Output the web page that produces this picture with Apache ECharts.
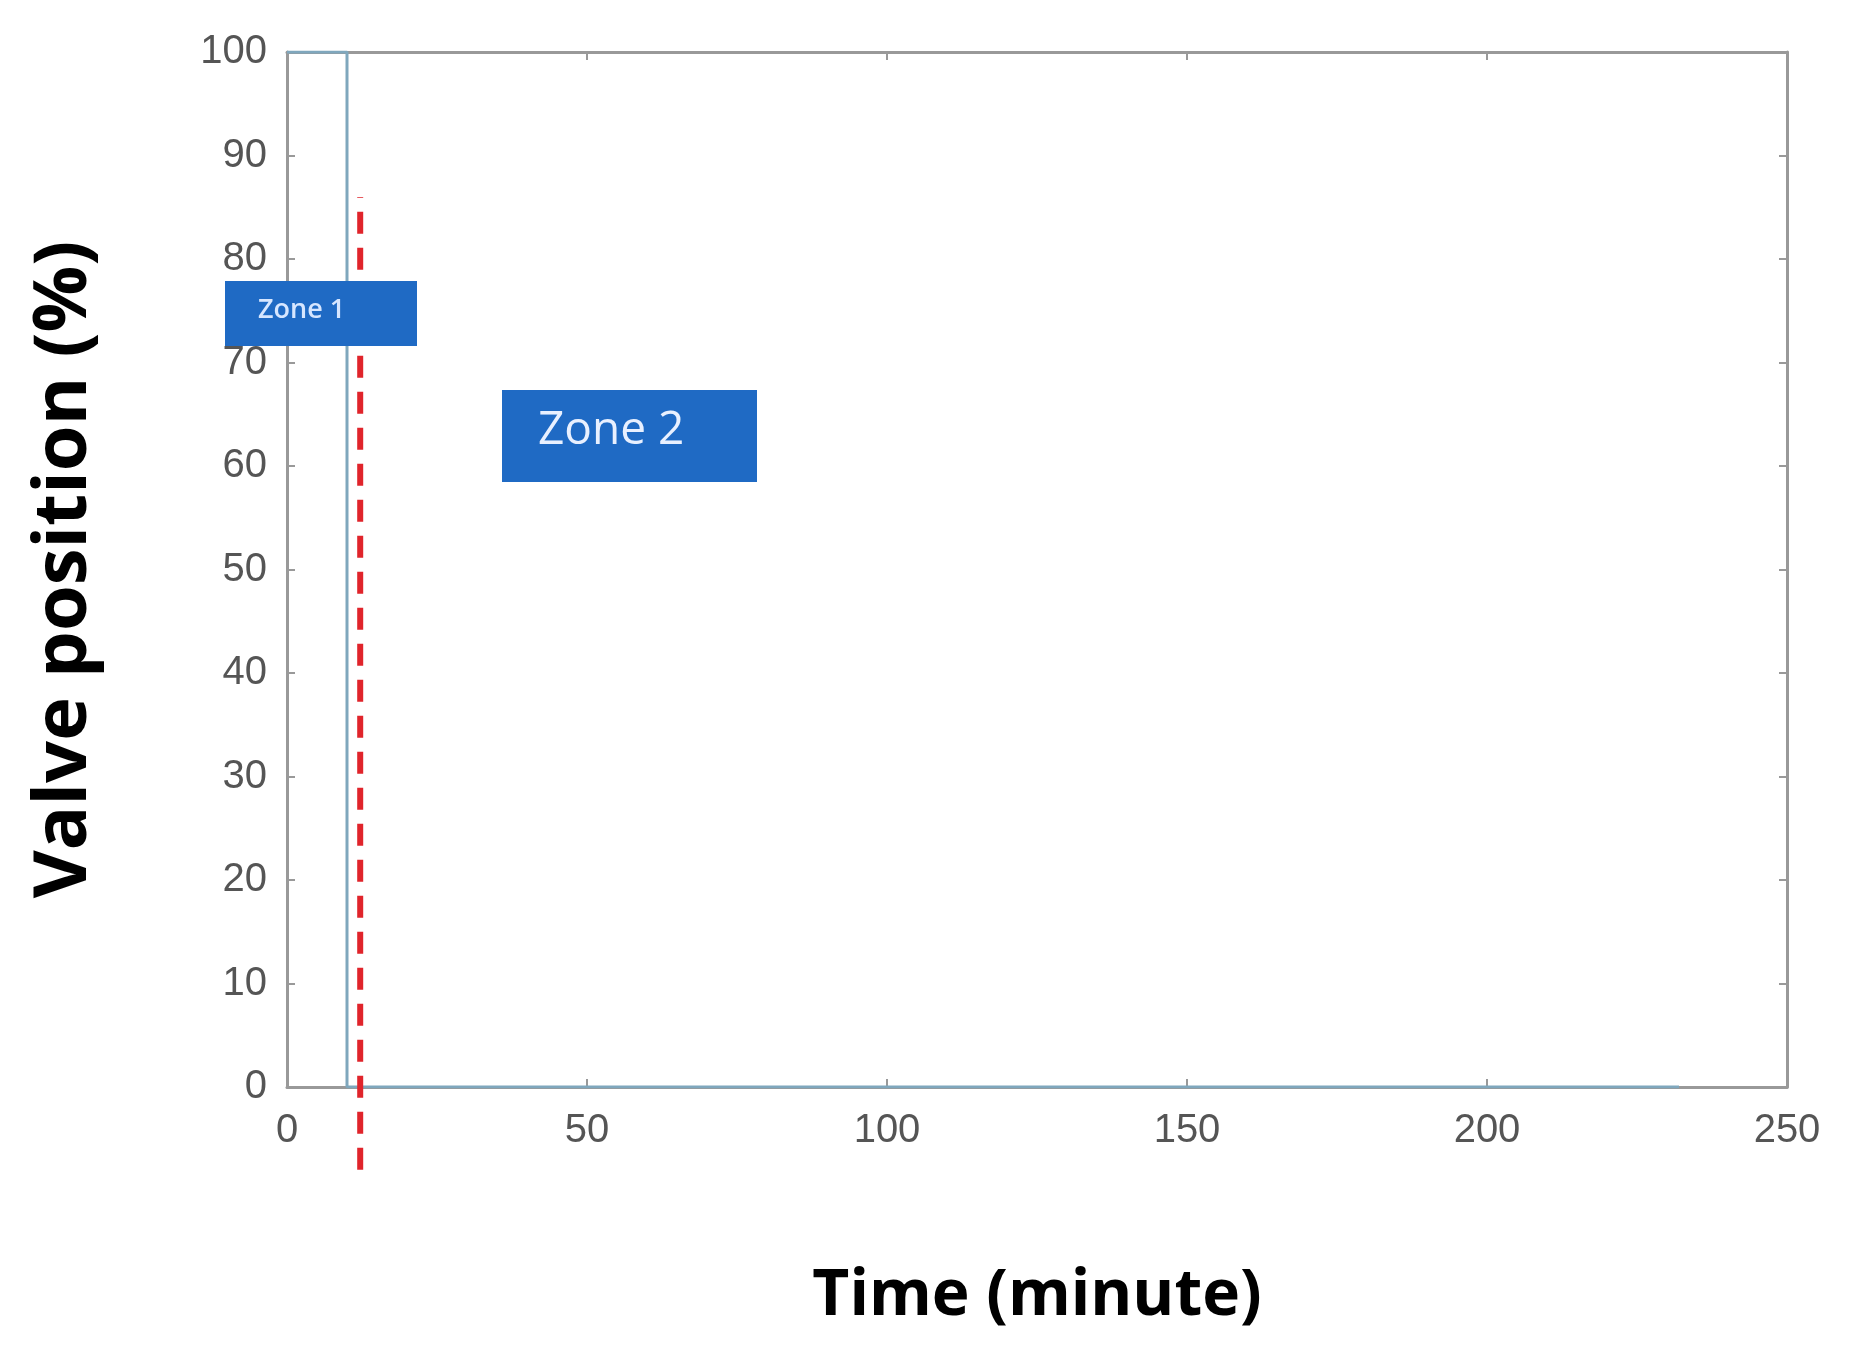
<!DOCTYPE html>
<html><head><meta charset="utf-8">
<script src="https://cdn.jsdelivr.net/npm/echarts@6/dist/echarts.min.js"></script>
<style>html,body{margin:0;background:#fff}#c{width:1853px;height:1361px}</style>
</head><body><div id="c"></div>
<script>
const valveTime = [0, 10, 10, 232];
const valvePos = [100, 100, 0, 0];
const boundaryTime = [12.2, 12.2];
const boundaryPos = [-8, 86];
const xTicks = [0, 50, 100, 150, 200, 250];
const yTicks = [0, 10, 20, 30, 40, 50, 60, 70, 80, 90, 100];

const chart = echarts.init(document.getElementById('c'));
const axisLbl = {color:'#555', fontSize:40, fontFamily:'Liberation Sans'};
const axLine = {show:true, onZero:false, lineStyle:{color:'#999', width:3}};
const tick = {inside:true, length:8, lineStyle:{color:'#999', width:2}};
chart.setOption({
  animation:false,
  grid:{left:287, right:66, top:52, bottom:274},
  xAxis:[{type:'value', min:0, max:250, interval:50, axisLine:axLine,
    axisTick:tick, splitLine:{show:false},
    axisLabel:{...axisLbl, margin:24},
    name:'Time (minute)', nameLocation:'middle', nameGap:178,
    nameTextStyle:{fontSize:64, fontWeight:'bold', color:'#000', fontFamily:'Open Sans'}},
    {type:'value', position:'top', min:0, max:250, interval:50, axisLine:axLine,
    axisTick:tick, axisLabel:{show:false}, splitLine:{show:false}}],
  yAxis:[{type:'value', min:0, max:100, interval:10, axisLine:axLine,
    axisTick:tick, splitLine:{show:false},
    axisLabel:{...axisLbl, margin:20},
    name:'Valve position (%)', nameLocation:'middle', nameGap:185,
    nameTextStyle:{fontSize:74, fontWeight:'bold', color:'#000', fontFamily:'Open Sans'}},
    {type:'value', position:'right', min:0, max:100, interval:10, axisLine:axLine,
    axisTick:tick, axisLabel:{show:false}, splitLine:{show:false}}],
  series:[
    {type:'line', data:valveTime.map((t,i)=>[t,valvePos[i]]), symbol:'none',
     lineStyle:{color:'#7fa7bd', width:3}},
    {type:'line', data:boundaryTime.map((t,i)=>[t,boundaryPos[i]]), symbol:'none', clip:false,
     lineStyle:{color:'#e0242b', width:6, type:[22,14]}}
  ],
  graphic:[
    {type:'rect', z:100, left:225, top:281, shape:{width:192, height:65}, style:{fill:'#1f6ac4'}},
    {type:'text', z:101, left:258, top:297, style:{text:'Zone 1', fill:'#d6e6ff', font:'600 27px "Open Sans"'}},
    {type:'rect', z:100, left:502, top:390, shape:{width:255, height:92}, style:{fill:'#1f6ac4'}},
    {type:'text', z:101, left:538, top:408, style:{text:'Zone 2', fill:'#e8f0ff', font:'500 46px "Open Sans"'}}
  ]
});
</script></body></html>
